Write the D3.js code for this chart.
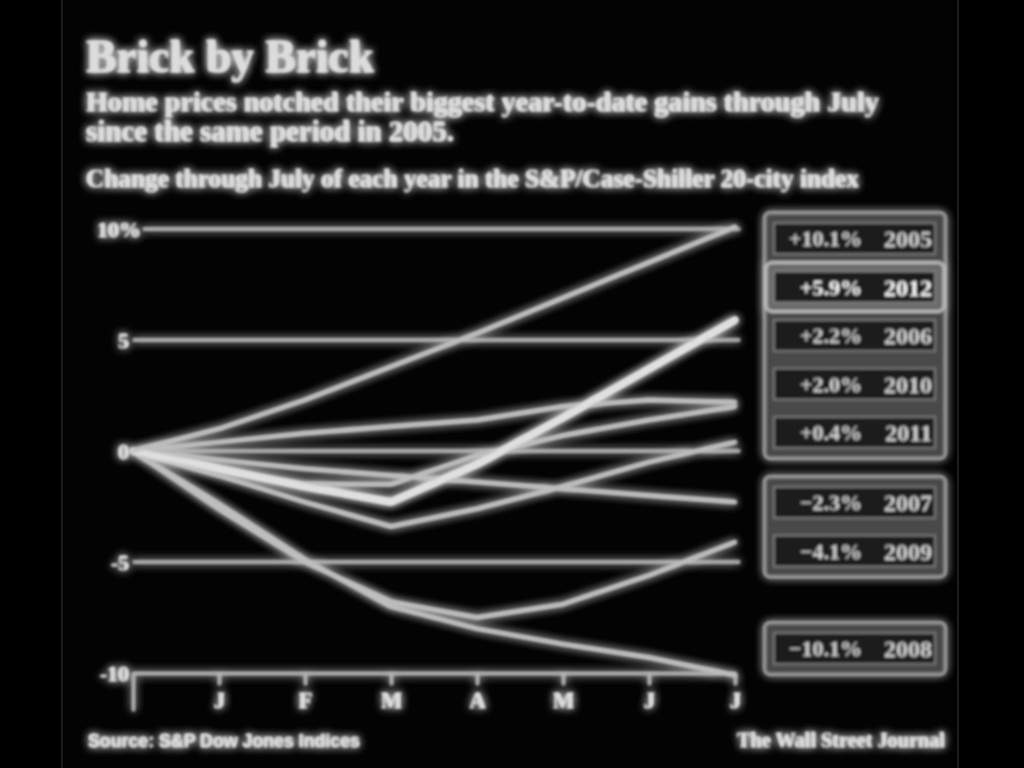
<!DOCTYPE html>
<html><head><meta charset="utf-8">
<script src="https://cdn.jsdelivr.net/npm/d3@7"></script>
<style>
html,body{margin:0;padding:0;background:#000;}
svg{display:block;}
</style></head>
<body>
<svg id="chart" width="1024" height="768"></svg>
<script>
// ---------- data ----------
const monthLabels = ["", "J", "F", "M", "A", "M", "J", "J"];
const yTickValues = [10, 5, 0, -5, -10];
const yTickLabels = ["10%", "5", "0", "-5", "-10"];
const seriesYears = ["2005", "2012", "2006", "2010", "2011", "2007", "2009", "2008"];
const v2005 = [0, 1.0, 2.3, 3.8, 5.3, 6.9, 8.5, 10.1];
const v2012 = [0, -0.8, -1.6, -2.3, -0.6, 1.5, 3.7, 5.9];
const v2006 = [0, 0.4, 0.8, 1.1, 1.4, 2.0, 2.3, 2.2];
const v2010 = [0, -0.8, -1.5, -1.5, -0.2, 0.7, 1.4, 2.0];
const v2011 = [0, -1.1, -2.3, -3.4, -2.6, -1.6, -0.5, 0.4];
const v2007 = [0, -0.4, -0.8, -1.1, -1.4, -1.7, -2.0, -2.3];
const v2009 = [0, -2.6, -5.0, -6.8, -7.5, -6.9, -5.6, -4.1];
const v2008 = [0, -2.4, -4.9, -7.0, -8.0, -8.7, -9.3, -10.1];
const labelGroups = [["2005", "2012", "2006", "2010", "2011"], ["2007", "2009"], ["2008"]];
const highlightYear = "2012";
const titleText = "Brick by Brick";
const subtitleLines = ["Home prices notched their biggest year-to-date gains through July",
                       "since the same period in 2005."];
const chartNote = "Change through July of each year in the S&P/Case-Shiller 20-city index";
const sourceText = "Source: S&P Dow Jones Indices";
const creditText = "The Wall Street Journal";

const valuesByYear = {"2005": v2005, "2012": v2012, "2006": v2006, "2010": v2010,
                      "2011": v2011, "2007": v2007, "2009": v2009, "2008": v2008};

// ---------- drawing ----------
const svg = d3.select("#chart");
const defs = svg.append("defs");
const glow = defs.append("filter").attr("id", "glow")
  .attr("x", "-10%").attr("y", "-10%").attr("width", "120%").attr("height", "120%");
glow.append("feGaussianBlur").attr("in", "SourceGraphic").attr("stdDeviation", 1.6).attr("result", "soft");
glow.append("feGaussianBlur").attr("in", "SourceGraphic").attr("stdDeviation", 5).attr("result", "wide");
const merge = glow.append("feMerge");
merge.append("feMergeNode").attr("in", "wide");
merge.append("feMergeNode").attr("in", "wide");
merge.append("feMergeNode").attr("in", "soft");
merge.append("feMergeNode").attr("in", "soft");

svg.append("rect").attr("x", 0).attr("y", 0).attr("width", 1024).attr("height", 768).attr("fill", "#000");
svg.append("rect").attr("x", 62).attr("y", -2).attr("width", 896).attr("height", 772)
  .attr("fill", "#030303").attr("stroke", "#1c1c1c").attr("stroke-width", 2);

const root = svg.append("g").attr("filter", "url(#glow)");
const TXT = "#dcdcdc";
const LINE = "#bebebe";

function fitWidth(sel, target) {
  const node = sel.node();
  const len = node.getComputedTextLength();
  const fs = parseFloat(sel.attr("font-size"));
  if (len > 0) sel.attr("font-size", (fs * target / len).toFixed(2));
  return sel;
}

// titles
fitWidth(root.append("text").attr("x", 86).attr("y", 72)
  .attr("font-family", "Liberation Serif, serif").attr("font-weight", "bold")
  .attr("font-size", 40).attr("fill", TXT).text(titleText), 288);
const subW = [793, 368];
subtitleLines.forEach((s, i) => {
  fitWidth(root.append("text").attr("x", 86).attr("y", 111 + i * 30)
    .attr("font-family", "Liberation Serif, serif").attr("font-weight", "bold")
    .attr("font-size", 25).attr("fill", TXT).text(s), subW[i]);
});
fitWidth(root.append("text").attr("x", 86).attr("y", 187)
  .attr("font-family", "Liberation Serif, serif").attr("font-weight", "bold")
  .attr("font-size", 22).attr("fill", TXT).text(chartNote), 773);

// scales
const x = d3.scaleLinear().domain([0, monthLabels.length - 1]).range([133, 735]);
const y = d3.scaleLinear().domain([-10, 10]).range([673, 229]);

// gridlines
const grid = root.append("g");
yTickValues.forEach((v) => {
  if (v === -10) return;
  grid.append("line")
    .attr("x1", v === 10 ? 143 : 133).attr("x2", 740)
    .attr("y1", y(v)).attr("y2", y(v))
    .attr("stroke", "#b4b4b4").attr("stroke-width", 2.5);
});
// y labels
yTickValues.forEach((v, i) => {
  root.append("text")
    .attr("x", v === 10 ? 141 : 129).attr("y", y(v)).attr("dy", "0.35em")
    .attr("text-anchor", "end").attr("font-family", "Liberation Serif, serif")
    .attr("font-weight", "bold")
    .attr("font-size", 22).attr("fill", TXT).text(yTickLabels[i]);
});

// x axis
const xAxis = d3.axisBottom(x)
  .tickValues(d3.range(monthLabels.length))
  .tickFormat((d) => monthLabels[d])
  .tickSizeInner(12).tickSizeOuter(0).tickPadding(7);
const gx = root.append("g").attr("transform", `translate(0,${y(-10)})`).call(xAxis);
gx.select(".domain").attr("stroke", "#b4b4b4").attr("stroke-width", 2.5);
gx.selectAll(".tick line").attr("stroke", "#b4b4b4").attr("stroke-width", 2.5);
gx.selectAll(".tick").filter((d) => d === 0).select("line").attr("y2", 38);
gx.selectAll(".tick text").attr("fill", TXT).attr("font-size", 23).attr("font-weight", "bold")
  .attr("font-family", "Liberation Serif, serif");

// lines
const lineGen = d3.line().x((d, i) => x(i)).y((d) => y(d));
const linesG = root.append("g");
seriesYears.slice().reverse().forEach((yr) => {
  const hi = yr === highlightYear;
  linesG.append("path").datum(valuesByYear[yr])
    .attr("d", lineGen).attr("fill", "none")
    .attr("stroke", hi ? "#e0e0e0" : LINE)
    .attr("stroke-width", hi ? 6 : 3.5)
    .attr("stroke-linecap", "round").attr("stroke-linejoin", "round");
});

// label boxes
const fmt = (v) => (v > 0 ? "+" : v < 0 ? "\u2212" : "") + Math.abs(v).toFixed(1) + "%";
const groupTops = [213, 477, 623];
const pitch = 48.5, innerH = 31, padTop = 10;
labelGroups.forEach((grp, gi) => {
  const top = groupTops[gi];
  const h = padTop * 2 + innerH + (grp.length - 1) * pitch;
  root.append("rect").attr("x", 765).attr("y", top).attr("width", 180).attr("height", h)
    .attr("rx", 5).attr("fill", "#4a4a4a").attr("stroke", "#9a9a9a").attr("stroke-width", 2.5);
  grp.forEach((yr, k) => {
    const hi = yr === highlightYear;
    const by = top + padTop + k * pitch;
    if (hi) {
      root.append("rect").attr("x", 766).attr("y", by - 9).attr("width", 178).attr("height", innerH + 18)
        .attr("rx", 6).attr("fill", "#6a6a6a").attr("stroke", "#bdbdbd").attr("stroke-width", 3);
    }
    root.append("rect").attr("x", 774).attr("y", by).attr("width", 161).attr("height", innerH)
      .attr("fill", "#1e1e1e").attr("stroke", "#8a8a8a").attr("stroke-width", 1.5);
    const vals = valuesByYear[yr];
    root.append("text").attr("x", 862).attr("y", by + innerH / 2).attr("dy", "0.36em")
      .attr("text-anchor", "end").attr("font-family", "Liberation Serif, serif")
      .attr("font-weight", "bold").attr("font-size", 22)
      .attr("fill", hi ? "#ffffff" : "#d4d4d4").text(fmt(vals[vals.length - 1]));
    root.append("text").attr("x", 932).attr("y", by + innerH / 2).attr("dy", "0.36em")
      .attr("text-anchor", "end").attr("font-family", "Liberation Serif, serif")
      .attr("font-weight", "bold").attr("font-size", 24)
      .attr("fill", hi ? "#ffffff" : "#d4d4d4").text(yr);
  });
});

// footer
fitWidth(root.append("text").attr("x", 88).attr("y", 747)
  .attr("font-family", "Liberation Sans Narrow, Liberation Sans, sans-serif").attr("font-weight", "bold")
  .attr("font-size", 17).attr("fill", TXT).text(sourceText), 272);
const cr = root.append("text").attr("x", 945).attr("y", 747).attr("text-anchor", "end")
  .attr("font-family", "Liberation Serif, serif").attr("font-weight", "bold")
  .attr("font-size", 18).attr("fill", TXT).text(creditText);
fitWidth(cr, 208);
</script>
</body></html>
